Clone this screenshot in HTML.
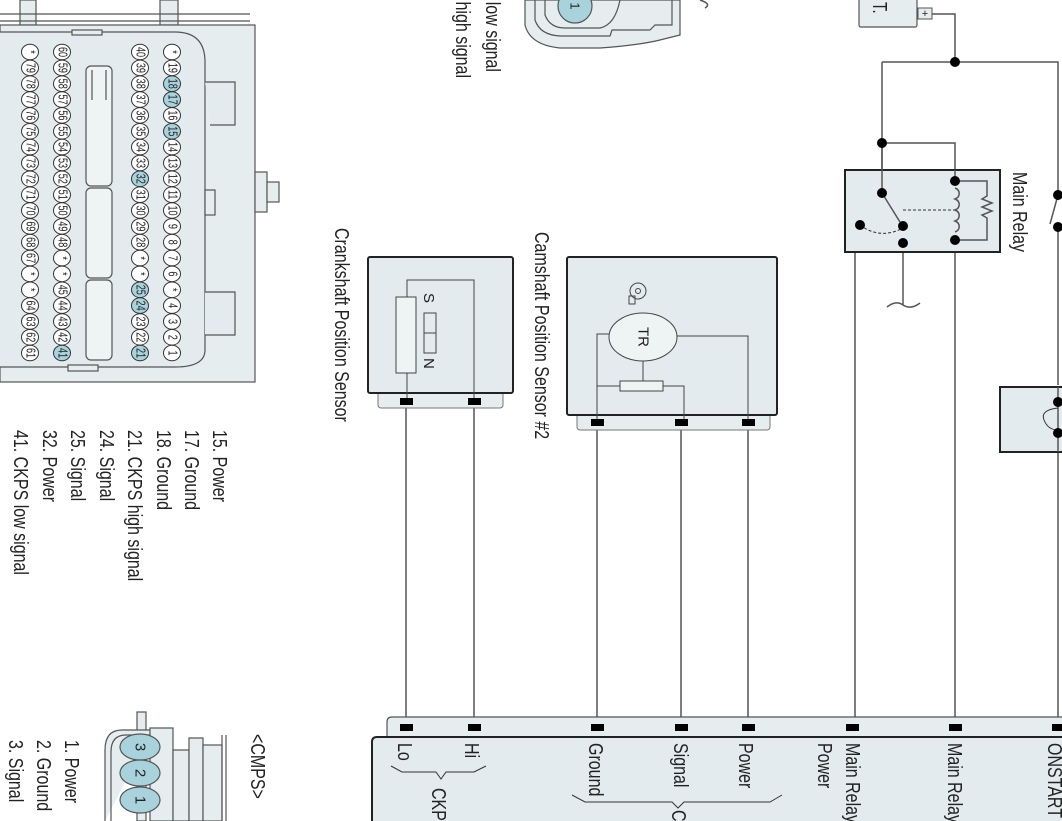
<!DOCTYPE html>
<html><head><meta charset="utf-8"><style>
html,body{margin:0;padding:0;background:#fff;}
svg{display:block;}
text{font-family:"Liberation Sans",Arial,sans-serif;fill:#222;}
.w{stroke:#555;stroke-width:1.5;fill:none;}
.t{stroke:#777;stroke-width:1;fill:none;}
.pn{font-size:13px;text-anchor:middle;dominant-baseline:central;}
.pc{fill:#fff;stroke:#333;stroke-width:1;}
.ph{fill:#a9d3dc;stroke:#333;stroke-width:1;}
.dot{fill:#000;}
</style></head><body>
<svg width="1062" height="821" viewBox="0 0 1062 821" xmlns="http://www.w3.org/2000/svg">
<defs>
<g id="c"><ellipse rx="8.5" ry="7.8" class="pc"/></g>
<g id="h"><ellipse rx="8.5" ry="7.8" class="ph"/></g>
</defs>

<!-- ECU connector body -->
<g stroke="#555" fill="#e6edef" stroke-width="1.2">
<rect x="20" y="0" width="16" height="25" fill="#e6edef"/>
<rect x="160" y="0" width="18" height="25" fill="#e6edef"/>
<line x1="0" y1="14" x2="250" y2="14"/>
<line x1="0" y1="21" x2="250" y2="21"/>
<rect x="0" y="25" width="255" height="357"/>
<rect x="255" y="172" width="12" height="40"/>
<rect x="267" y="182" width="12" height="20"/>
<path d="M0 32 H175 Q205 32 205 62 V350 Q205 367 175 367 H0" fill="#e3ebee"/>
<path d="M205 82 H235 V125 H210" fill="#e3ebee"/>
<path d="M205 292 H235 V335 H205" fill="#e3ebee"/>
<rect x="205" y="190" width="10" height="25"/>
<rect x="72" y="30" width="30" height="5"/>
<rect x="68" y="365" width="30" height="6"/>
<rect x="86" y="66" width="26" height="120" rx="5" fill="#eef3f4"/>
<rect x="86" y="188" width="26" height="90" rx="5" fill="#eef3f4"/>
<rect x="86" y="280" width="26" height="80" rx="5" fill="#eef3f4"/>
<line x1="92" y1="70" x2="92" y2="100"/><line x1="106" y1="70" x2="106" y2="100"/>
</g>

<g>
<use href="#c" x="172" y="52"/><use href="#c" x="172" y="67.9"/><use href="#h" x="172" y="83.7"/><use href="#h" x="172" y="99.6"/><use href="#c" x="172" y="115.4"/><use href="#h" x="172" y="131.3"/><use href="#c" x="172" y="147.1"/><use href="#c" x="172" y="163"/><use href="#c" x="172" y="178.8"/><use href="#c" x="172" y="194.7"/><use href="#c" x="172" y="210.5"/><use href="#c" x="172" y="226.4"/><use href="#c" x="172" y="242.2"/><use href="#c" x="172" y="258.1"/><use href="#c" x="172" y="273.9"/><use href="#c" x="172" y="289.8"/><use href="#c" x="172" y="305.6"/><use href="#c" x="172" y="321.5"/><use href="#c" x="172" y="337.3"/><use href="#c" x="172" y="353"/>
<use href="#c" x="140" y="52"/><use href="#c" x="140" y="67.9"/><use href="#c" x="140" y="83.7"/><use href="#c" x="140" y="99.6"/><use href="#c" x="140" y="115.4"/><use href="#c" x="140" y="131.3"/><use href="#c" x="140" y="147.1"/><use href="#c" x="140" y="163"/><use href="#h" x="140" y="178.8"/><use href="#c" x="140" y="194.7"/><use href="#c" x="140" y="210.5"/><use href="#c" x="140" y="226.4"/><use href="#c" x="140" y="242.2"/><use href="#c" x="140" y="258.1"/><use href="#c" x="140" y="273.9"/><use href="#h" x="140" y="289.8"/><use href="#h" x="140" y="305.6"/><use href="#c" x="140" y="321.5"/><use href="#c" x="140" y="337.3"/><use href="#h" x="140" y="353"/>
<use href="#c" x="62" y="52"/><use href="#c" x="62" y="67.9"/><use href="#c" x="62" y="83.7"/><use href="#c" x="62" y="99.6"/><use href="#c" x="62" y="115.4"/><use href="#c" x="62" y="131.3"/><use href="#c" x="62" y="147.1"/><use href="#c" x="62" y="163"/><use href="#c" x="62" y="178.8"/><use href="#c" x="62" y="194.7"/><use href="#c" x="62" y="210.5"/><use href="#c" x="62" y="226.4"/><use href="#c" x="62" y="242.2"/><use href="#c" x="62" y="258.1"/><use href="#c" x="62" y="273.9"/><use href="#c" x="62" y="289.8"/><use href="#c" x="62" y="305.6"/><use href="#c" x="62" y="321.5"/><use href="#c" x="62" y="337.3"/><use href="#h" x="62" y="353"/>
<use href="#c" x="30" y="52"/><use href="#c" x="30" y="67.9"/><use href="#c" x="30" y="83.7"/><use href="#c" x="30" y="99.6"/><use href="#c" x="30" y="115.4"/><use href="#c" x="30" y="131.3"/><use href="#c" x="30" y="147.1"/><use href="#c" x="30" y="163"/><use href="#c" x="30" y="178.8"/><use href="#c" x="30" y="194.7"/><use href="#c" x="30" y="210.5"/><use href="#c" x="30" y="226.4"/><use href="#c" x="30" y="242.2"/><use href="#c" x="30" y="258.1"/><use href="#c" x="30" y="273.9"/><use href="#c" x="30" y="289.8"/><use href="#c" x="30" y="305.6"/><use href="#c" x="30" y="321.5"/><use href="#c" x="30" y="337.3"/><use href="#c" x="30" y="353"/>
</g>
<g>
<text class="pn" transform="translate(172,52) rotate(90) scale(.7,1)">*</text><text class="pn" transform="translate(172,67.9) rotate(90) scale(.7,1)">19</text><text class="pn" transform="translate(172,83.7) rotate(90) scale(.7,1)">18</text><text class="pn" transform="translate(172,99.6) rotate(90) scale(.7,1)">17</text><text class="pn" transform="translate(172,115.4) rotate(90) scale(.7,1)">16</text><text class="pn" transform="translate(172,131.3) rotate(90) scale(.7,1)">15</text><text class="pn" transform="translate(172,147.1) rotate(90) scale(.7,1)">14</text><text class="pn" transform="translate(172,163) rotate(90) scale(.7,1)">13</text><text class="pn" transform="translate(172,178.8) rotate(90) scale(.7,1)">12</text><text class="pn" transform="translate(172,194.7) rotate(90) scale(.7,1)">11</text><text class="pn" transform="translate(172,210.5) rotate(90) scale(.7,1)">10</text><text class="pn" transform="translate(172,226.4) rotate(90) scale(.7,1)">9</text><text class="pn" transform="translate(172,242.2) rotate(90) scale(.7,1)">8</text><text class="pn" transform="translate(172,258.1) rotate(90) scale(.7,1)">7</text><text class="pn" transform="translate(172,273.9) rotate(90) scale(.7,1)">6</text><text class="pn" transform="translate(172,289.8) rotate(90) scale(.7,1)">*</text><text class="pn" transform="translate(172,305.6) rotate(90) scale(.7,1)">4</text><text class="pn" transform="translate(172,321.5) rotate(90) scale(.7,1)">3</text><text class="pn" transform="translate(172,337.3) rotate(90) scale(.7,1)">2</text><text class="pn" transform="translate(172,353) rotate(90) scale(.7,1)">1</text>
<text class="pn" transform="translate(140,52) rotate(90) scale(.7,1)">40</text><text class="pn" transform="translate(140,67.9) rotate(90) scale(.7,1)">39</text><text class="pn" transform="translate(140,83.7) rotate(90) scale(.7,1)">38</text><text class="pn" transform="translate(140,99.6) rotate(90) scale(.7,1)">37</text><text class="pn" transform="translate(140,115.4) rotate(90) scale(.7,1)">36</text><text class="pn" transform="translate(140,131.3) rotate(90) scale(.7,1)">35</text><text class="pn" transform="translate(140,147.1) rotate(90) scale(.7,1)">34</text><text class="pn" transform="translate(140,163) rotate(90) scale(.7,1)">33</text><text class="pn" transform="translate(140,178.8) rotate(90) scale(.7,1)">32</text><text class="pn" transform="translate(140,194.7) rotate(90) scale(.7,1)">31</text><text class="pn" transform="translate(140,210.5) rotate(90) scale(.7,1)">30</text><text class="pn" transform="translate(140,226.4) rotate(90) scale(.7,1)">29</text><text class="pn" transform="translate(140,242.2) rotate(90) scale(.7,1)">28</text><text class="pn" transform="translate(140,258.1) rotate(90) scale(.7,1)">*</text><text class="pn" transform="translate(140,273.9) rotate(90) scale(.7,1)">*</text><text class="pn" transform="translate(140,289.8) rotate(90) scale(.7,1)">25</text><text class="pn" transform="translate(140,305.6) rotate(90) scale(.7,1)">24</text><text class="pn" transform="translate(140,321.5) rotate(90) scale(.7,1)">23</text><text class="pn" transform="translate(140,337.3) rotate(90) scale(.7,1)">22</text><text class="pn" transform="translate(140,353) rotate(90) scale(.7,1)">21</text>
<text class="pn" transform="translate(62,52) rotate(90) scale(.7,1)">60</text><text class="pn" transform="translate(62,67.9) rotate(90) scale(.7,1)">59</text><text class="pn" transform="translate(62,83.7) rotate(90) scale(.7,1)">58</text><text class="pn" transform="translate(62,99.6) rotate(90) scale(.7,1)">57</text><text class="pn" transform="translate(62,115.4) rotate(90) scale(.7,1)">56</text><text class="pn" transform="translate(62,131.3) rotate(90) scale(.7,1)">55</text><text class="pn" transform="translate(62,147.1) rotate(90) scale(.7,1)">54</text><text class="pn" transform="translate(62,163) rotate(90) scale(.7,1)">53</text><text class="pn" transform="translate(62,178.8) rotate(90) scale(.7,1)">52</text><text class="pn" transform="translate(62,194.7) rotate(90) scale(.7,1)">51</text><text class="pn" transform="translate(62,210.5) rotate(90) scale(.7,1)">50</text><text class="pn" transform="translate(62,226.4) rotate(90) scale(.7,1)">49</text><text class="pn" transform="translate(62,242.2) rotate(90) scale(.7,1)">48</text><text class="pn" transform="translate(62,258.1) rotate(90) scale(.7,1)">*</text><text class="pn" transform="translate(62,273.9) rotate(90) scale(.7,1)">*</text><text class="pn" transform="translate(62,289.8) rotate(90) scale(.7,1)">45</text><text class="pn" transform="translate(62,305.6) rotate(90) scale(.7,1)">44</text><text class="pn" transform="translate(62,321.5) rotate(90) scale(.7,1)">43</text><text class="pn" transform="translate(62,337.3) rotate(90) scale(.7,1)">42</text><text class="pn" transform="translate(62,353) rotate(90) scale(.7,1)">41</text>
<text class="pn" transform="translate(30,52) rotate(90) scale(.7,1)">*</text><text class="pn" transform="translate(30,67.9) rotate(90) scale(.7,1)">79</text><text class="pn" transform="translate(30,83.7) rotate(90) scale(.7,1)">78</text><text class="pn" transform="translate(30,99.6) rotate(90) scale(.7,1)">77</text><text class="pn" transform="translate(30,115.4) rotate(90) scale(.7,1)">76</text><text class="pn" transform="translate(30,131.3) rotate(90) scale(.7,1)">75</text><text class="pn" transform="translate(30,147.1) rotate(90) scale(.7,1)">74</text><text class="pn" transform="translate(30,163) rotate(90) scale(.7,1)">73</text><text class="pn" transform="translate(30,178.8) rotate(90) scale(.7,1)">72</text><text class="pn" transform="translate(30,194.7) rotate(90) scale(.7,1)">71</text><text class="pn" transform="translate(30,210.5) rotate(90) scale(.7,1)">70</text><text class="pn" transform="translate(30,226.4) rotate(90) scale(.7,1)">69</text><text class="pn" transform="translate(30,242.2) rotate(90) scale(.7,1)">68</text><text class="pn" transform="translate(30,258.1) rotate(90) scale(.7,1)">67</text><text class="pn" transform="translate(30,273.9) rotate(90) scale(.7,1)">*</text><text class="pn" transform="translate(30,289.8) rotate(90) scale(.7,1)">*</text><text class="pn" transform="translate(30,305.6) rotate(90) scale(.7,1)">64</text><text class="pn" transform="translate(30,321.5) rotate(90) scale(.7,1)">63</text><text class="pn" transform="translate(30,337.3) rotate(90) scale(.7,1)">62</text><text class="pn" transform="translate(30,353) rotate(90) scale(.7,1)">61</text>
</g>

<!-- ECU pin legend -->
<g>
<text font-size="20" transform="translate(213,430) rotate(90) scale(.8,1)">15. Power</text>
<text font-size="20" transform="translate(185,430) rotate(90) scale(.8,1)">17. Ground</text>
<text font-size="20" transform="translate(157,430) rotate(90) scale(.8,1)">18. Ground</text>
<text font-size="20" transform="translate(128,430) rotate(90) scale(.8,1)">21. CKPS high signal</text>
<text font-size="20" transform="translate(100,430) rotate(90) scale(.8,1)">24. Signal</text>
<text font-size="20" transform="translate(71,430) rotate(90) scale(.8,1)">25. Signal</text>
<text font-size="20" transform="translate(43,430) rotate(90) scale(.8,1)">32. Power</text>
<text font-size="20" transform="translate(14,430) rotate(90) scale(.8,1)">41. CKPS low signal</text>
</g>

<!-- CMPS connector -->
<g stroke="#555" stroke-width="1.2" fill="#e6edef">
<rect x="137" y="712" width="9" height="109"/>
<path d="M152 730 H122 Q105 730 105 750 V821"/>
<path d="M152 735 H126 Q111 735 111 752 V821" fill="none"/>
<rect x="150" y="728" width="23" height="93"/>
<rect x="173" y="750" width="16" height="71"/>
<rect x="189" y="738" width="14" height="83"/>
<rect x="203" y="745" width="19" height="76"/>
<line x1="222" y1="735" x2="222" y2="821"/>
<line x1="226" y1="735" x2="226" y2="821"/>
<ellipse cx="140" cy="747" rx="20" ry="13" fill="#a9d3dc"/>
<ellipse cx="140" cy="773" rx="20" ry="13" fill="#a9d3dc"/>
<ellipse cx="140" cy="800" rx="20" ry="13" fill="#a9d3dc"/>
</g>
<text class="pn" style="font-size:15px" transform="translate(140,747) rotate(90)">3</text>
<text class="pn" style="font-size:15px" transform="translate(140,773) rotate(90)">2</text>
<text class="pn" style="font-size:15px" transform="translate(140,800) rotate(90)">1</text>
<text font-size="20" transform="translate(251,734) rotate(90) scale(.8,1)">&lt;CMPS&gt;</text>
<text font-size="20" transform="translate(65,740) rotate(90) scale(.8,1)">1. Power</text>
<text font-size="20" transform="translate(37,740) rotate(90) scale(.8,1)">2. Ground</text>
<text font-size="20" transform="translate(9,740) rotate(90) scale(.8,1)">3. Signal</text>

<!-- top CKPS connector -->
<g stroke="#555" stroke-width="1.2" fill="#e6edef">
<path d="M525 0 V25 Q530 45 560 48 H600 Q640 45 660 40 L680 35 V0 Z"/>
<path d="M535 0 V20 Q540 35 560 36 H610 L612 30 H650 L655 25 H672 V0" fill="none"/>
<path d="M545 0 V15 Q550 28 565 28 H600 Q615 25 620 0" fill="none"/>
<circle cx="575" cy="6" r="17" fill="#a9d3dc"/>
</g>
<text class="pn" transform="translate(575,6) rotate(90)">1</text>
<text font-size="20" text-anchor="end" transform="translate(486,72) rotate(90) scale(.8,1)">low signal</text>
<text font-size="20" text-anchor="end" transform="translate(456,78) rotate(90) scale(.8,1)">high signal</text>
<path d="M700 0 Q712 4 705 8" class="w"/>

<!-- Battery -->
<rect x="859" y="-5" width="58" height="32" rx="2" fill="#e6edef" stroke="#555" stroke-width="1.2"/>
<text font-size="20" transform="translate(873,2) rotate(90) scale(.75,1)">T.</text>
<rect x="918" y="8" width="14" height="11" fill="#e6edef" stroke="#555"/>
<text x="925" y="17" font-size="11" text-anchor="middle">+</text>

<!-- wiring -->
<g class="w">
<path d="M932 14 H955 V62"/>
<path d="M882 62 H1058 V195"/>
<path d="M882 62 V193"/>
<path d="M882 143 H955 V181"/>
<path d="M1058 227 V385"/>
<path d="M1058 452 V724"/>
<path d="M955 240 V724"/>
<path d="M903 243 H855 V724"/>
<path d="M903 243 V305"/>
<path d="M887 307 Q896 300 903 305 Q911 310 920 303"/>
<path d="M406 401 V724"/><path d="M474 401 V724"/>
<path d="M597 422 V724"/><path d="M681 422 V724"/><path d="M748 422 V724"/>
<path d="M1058 195 L1050 224"/>
</g>

<!-- Main relay -->
<rect x="845" y="170" width="155" height="82" fill="#e3ebee" stroke="#222" stroke-width="2"/>
<g class="w">
<path d="M882 143 V193"/>
<path d="M955 170 V181"/>
<path d="M882 193 L900 222"/>
<path d="M955 181 H987 V196 L982 199 L992 203 L982 207 L992 211 L982 215 L987 218 V240 H955"/>
<path d="M955 188 a7 6 0 0 1 0 11 a7 6 0 0 1 0 11 a7 6 0 0 1 0 11 a7 6 0 0 1 0 11" />
</g>
<path d="M903 210 H955" stroke="#333" stroke-dasharray="3,2" fill="none"/>
<path d="M860 225 Q880 240 903 228" stroke="#333" stroke-dasharray="3,2" fill="none"/>
<g class="dot">
<circle cx="955" cy="62" r="5"/><circle cx="882" cy="143" r="5"/>
<circle cx="882" cy="193" r="5"/><circle cx="903" cy="226" r="5"/><circle cx="860" cy="225" r="5"/><circle cx="903" cy="243" r="5"/>
<circle cx="955" cy="181" r="5"/><circle cx="955" cy="240" r="5"/>
<circle cx="1058" cy="195" r="5"/><circle cx="1058" cy="227" r="5"/>
</g>
<text font-size="20" transform="translate(1013,172) rotate(90) scale(.8,1)">Main Relay</text>

<!-- right small box -->
<rect x="1000" y="387" width="70" height="65" fill="#e3ebee" stroke="#222" stroke-width="2"/>
<path d="M1058 387 V452" class="w"/>
<path d="M1058 408 Q1040 410 1044 420 Q1048 430 1058 430" stroke="#333" fill="none"/>
<circle cx="1058" cy="402" r="5"/><circle cx="1058" cy="433" r="5"/>

<!-- Crankshaft sensor -->
<rect x="378" y="388" width="125" height="20" rx="3" fill="#e6edef" stroke="#777"/>
<rect x="368" y="257" width="145" height="136" rx="2" fill="#e3ebee" stroke="#222" stroke-width="2"/>
<g class="t" style="stroke:#444">
<rect x="396" y="297" width="20" height="76" fill="#eef3f4"/>
<path d="M407 297 V280 H474 V401"/>
<path d="M407 373 V401"/>
<rect x="424" y="313" width="12" height="40"/>
<line x1="424" y1="333" x2="436" y2="333"/>
</g>
<text font-size="15" transform="translate(424,293) rotate(90)">S</text>
<text font-size="15" transform="translate(424,358) rotate(90)">N</text>
<rect x="400" y="398" width="13" height="7" fill="#000"/><rect x="468" y="398" width="13" height="7" fill="#000"/>
<text font-size="20" transform="translate(335,228) rotate(90) scale(.8,1)">Crankshaft Position Sensor</text>

<!-- Camshaft sensor -->
<rect x="577" y="410" width="193" height="20" rx="3" fill="#e6edef" stroke="#777"/>
<rect x="567" y="257" width="210" height="158" rx="2" fill="#e3ebee" stroke="#222" stroke-width="2"/>
<g class="t" style="stroke:#444">
<ellipse cx="643" cy="337" rx="34" ry="24" fill="#eef3f4"/>
<path d="M609 334 H597 V422"/>
<path d="M677 336 H748 V422"/>
<path d="M643 361 V381"/>
<rect x="620" y="381" width="43" height="10" fill="#eef3f4"/>
<path d="M597 386 H620"/>
<path d="M663 386 H684 V422"/>
<circle cx="638" cy="291" r="8"/><circle cx="638" cy="291" r="2.5"/>
<rect x="629" y="296" width="6" height="8"/>
</g>
<text font-size="15" text-anchor="middle" dominant-baseline="central" transform="translate(643,337) rotate(90)">TR</text>
<rect x="591" y="419" width="13" height="7" fill="#000"/><rect x="675" y="419" width="13" height="7" fill="#000"/><rect x="742" y="419" width="13" height="7" fill="#000"/>
<text font-size="20" transform="translate(535,232) rotate(90) scale(.8,1)">Camshaft Position Sensor #2</text>

<!-- ECU bottom -->
<path d="M387 740 V722 Q387 717 392 717 H1070 V740 Z" fill="#e6edef" stroke="#555" stroke-width="1.2"/>
<path d="M372 830 V742 Q372 737 377 737 H1070 V830 Z" fill="#e3ebee" stroke="#222" stroke-width="2"/>
<g fill="#000">
<rect x="400" y="724" width="13" height="7"/><rect x="468" y="724" width="13" height="7"/>
<rect x="591" y="724" width="13" height="7"/><rect x="675" y="724" width="13" height="7"/><rect x="742" y="724" width="13" height="7"/>
<rect x="846" y="724" width="13" height="7"/><rect x="949" y="724" width="13" height="7"/><rect x="1052" y="724" width="13" height="7"/>
</g>
<g>
<text font-size="20" transform="translate(398,743) rotate(90) scale(.8,1)">Lo</text>
<text font-size="20" transform="translate(465,743) rotate(90) scale(.8,1)">Hi</text>
<text font-size="20" transform="translate(589,743) rotate(90) scale(.8,1)">Ground</text>
<text font-size="20" transform="translate(674,743) rotate(90) scale(.8,1)">Signal</text>
<text font-size="20" transform="translate(739,743) rotate(90) scale(.8,1)">Power</text>
<text font-size="20" transform="translate(846,743) rotate(90) scale(.8,1)">Main Relay</text>
<text font-size="20" transform="translate(818,743) rotate(90) scale(.8,1)">Power</text>
<text font-size="20" transform="translate(948,743) rotate(90) scale(.8,1)">Main Relay</text>
<text font-size="20" transform="translate(1048,743) rotate(90) scale(.8,1)">ONSTART</text>
<text font-size="20" transform="translate(432,788) rotate(90) scale(.8,1)">CKPS</text>
<text font-size="20" transform="translate(672,810) rotate(90) scale(.8,1)">CMPS</text>
</g>
<path d="M391 766 L402 772 H436 L441 779 L446 772 H474 L486 766" stroke="#333" fill="none"/>
<path d="M572 795 L585 802 H672 L678 808 L684 802 H770 L782 795" stroke="#333" fill="none"/>
</svg>
</body></html>
